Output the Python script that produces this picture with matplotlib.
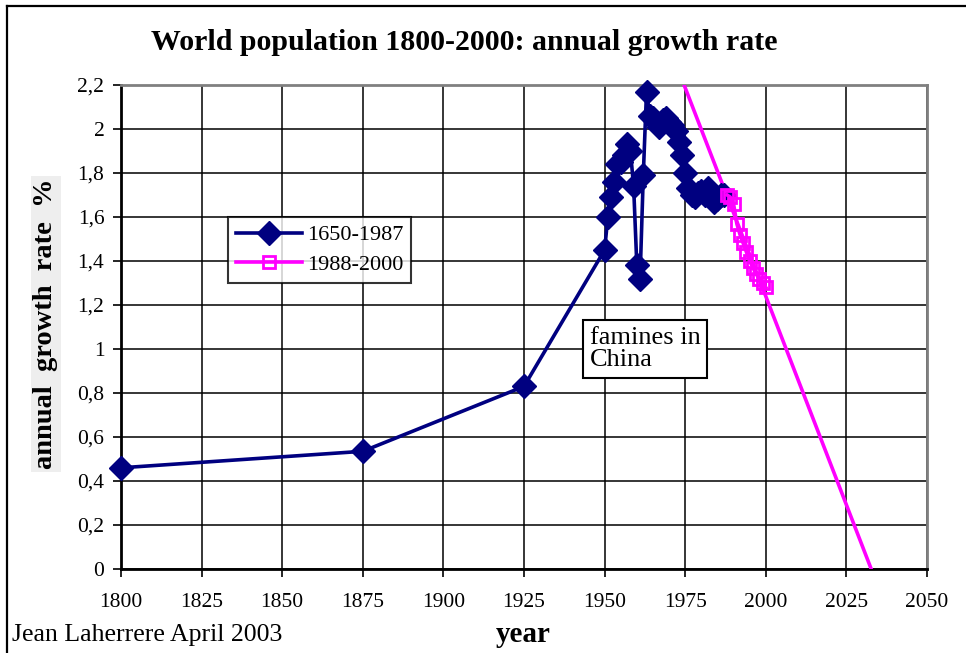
import numpy as np
import matplotlib
matplotlib.use("Agg")
import matplotlib.pyplot as plt
from matplotlib.lines import Line2D
from matplotlib.ticker import FuncFormatter

# data
years_old = [1800, 1875, 1925, 1950, 1951, 1952, 1953, 1954, 1955, 1956, 1957, 1958,
             1959, 1960, 1961, 1962, 1963, 1964, 1965, 1966, 1967, 1968, 1969, 1970,
             1971, 1972, 1973, 1974, 1975, 1976, 1977, 1978, 1979, 1980, 1981, 1982,
             1983, 1984, 1985, 1986, 1987]
rate_old = [0.46, 0.535, 0.83, 1.45, 1.60, 1.69, 1.76, 1.84, 1.85, 1.88, 1.93, 1.90,
            1.74, 1.38, 1.32, 1.79, 2.17, 2.06, 2.05, 2.03, 2.01, 2.04, 2.05, 2.03,
            2.02, 1.99, 1.94, 1.88, 1.80, 1.73, 1.70, 1.69, 1.71, 1.72, 1.70, 1.73,
            1.69, 1.67, 1.68, 1.70, 1.70]

years_new = [1988, 1989, 1990, 1991, 1992, 1993, 1994, 1995, 1996, 1997, 1998, 1999, 2000]
rate_new = [1.70, 1.69, 1.66, 1.57, 1.52, 1.48, 1.44, 1.40, 1.37, 1.34, 1.32, 1.30, 1.28]

xticks = [1800, 1825, 1850, 1875, 1900, 1925, 1950, 1975, 2000, 2025, 2050]
yticks = [0, 0.2, 0.4, 0.6, 0.8, 1.0, 1.2, 1.4, 1.6, 1.8, 2.0, 2.2]

navy = "#000080"
pink = "#FF00FF"
serif = ["Liberation Serif", "DejaVu Serif"]
plt.rcParams["font.family"] = serif

fig = plt.figure(figsize=(9.66, 6.53), dpi=100)
ax = fig.add_axes([121 / 966, 84 / 653, 806 / 966, 484 / 653])

# linear trend of the 1988-2000 series, extended
coef = np.polyfit(years_new, rate_new, 1)
tx = np.array([1965, 2040])
ax.plot(tx, np.polyval(coef, tx), color=pink, lw=2.6, zorder=3)

ax.plot(years_old, rate_old, color=navy, lw=2.6, marker="D", ms=12,
        mfc=navy, mec=navy, label="1650-1987", zorder=4, clip_on=False)
ax.plot(years_new, rate_new, color=pink, lw=2.6, marker="s", ms=9,
        mfc="none", mec=pink, mew=2, label="1988-2000", zorder=5, clip_on=False)

ax.set_xlim(1800, 2050)
ax.set_ylim(0, 2.2)
ax.set_xticks(xticks)
ax.set_yticks(yticks)
ax.yaxis.set_major_formatter(FuncFormatter(lambda v, p: ("%g" % round(v, 1)).replace(".", ",")))
ax.grid(True, color="black", lw=1.1)
ax.set_axisbelow(True)
ax.tick_params(direction="out", length=6, width=1.2, labelsize=15.5, pad=6)
ax.tick_params(axis="x", pad=11)
for s in ["top", "right"]:
    ax.spines[s].set_color("#808080")
    ax.spines[s].set_linewidth(2)
for s in ["left", "bottom"]:
    ax.spines[s].set_color("black")
    ax.spines[s].set_linewidth(2)

leg = ax.legend(loc="upper left", bbox_to_anchor=(107 / 806, 1 - 132 / 484),
                fontsize=16, frameon=True, fancybox=False, edgecolor="black",
                handlelength=3.0, borderpad=0.35, labelspacing=0.4,
                handletextpad=0.2, borderaxespad=0)
leg.get_frame().set_linewidth(1.5)

ax.text(1945.5, 1.0, "famines in\nChina", fontsize=19, va="center", ha="left",
        linespacing=1.05,
        bbox=dict(boxstyle="square,pad=0.25", fc="white", ec="black", lw=1.5))

fig.text(464 / 966, 1 - 43 / 653, "World population 1800-2000: annual growth rate",
         fontsize=21.5, fontweight="bold", ha="center", va="center")
fig.text(46 / 966, 1 - 324 / 653, "annual  growth  rate  %", fontsize=20.5,
         fontweight="bold", rotation=90, ha="center", va="center",
         bbox=dict(boxstyle="square,pad=0.1", fc="#eeeeee", ec="none"))
fig.text(523 / 966, 1 - 635 / 653, "year", fontsize=21, fontweight="bold",
         ha="center", va="center")
fig.text(12 / 966, 1 - 635 / 653, "Jean Laherrere April 2003", fontsize=18.5,
         ha="left", va="center")

# outer chart frame (left and top edges visible)
fig.add_artist(Line2D([7 / 966, 7 / 966], [0, 1 - 6 / 653], color="black", lw=1.6,
                      transform=fig.transFigure))
fig.add_artist(Line2D([7 / 966, 1], [1 - 6 / 653, 1 - 6 / 653], color="black", lw=1.6,
                      transform=fig.transFigure))

fig.savefig("out.png", dpi=100)
